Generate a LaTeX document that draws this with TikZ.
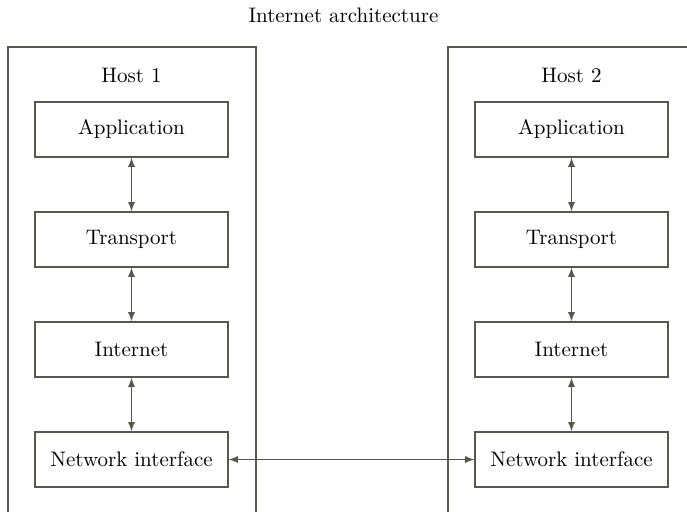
\documentclass[tikz,border=0pt]{standalone}
\usepackage{tikz}
\definecolor{rule}{RGB}{88,88,76}
\begin{document}
\begin{tikzpicture}[x=0.5pt,y=0.5pt,
    layer/.style={draw=rule, line width=0.6pt, minimum width=96.5pt, minimum height=27.5pt, inner sep=0pt, font=\fontsize{10.5}{12}\selectfont},
    link/.style={<->, >=latex, draw=rule, line width=0.6pt},
    every node/.style={font=\fontsize{10.5}{12}\selectfont}]
    \useasboundingbox (0,0) rectangle (687,512);
    \node (title) at (343.5,497) {Internet architecture};
    \foreach \h/\xl/\xc in {1/8/131.5, 2/448/571.5} {
        \draw[rule, line width=0.6pt] (\xl,-10) rectangle ++(248,475);
        \node (host\h) at (\xc,437) {Host \h};
        \node[layer] (app\h) at (\xc,382.5) {Application};
        \node[layer] (tra\h) at (\xc,272.5) {Transport};
        \node[layer] (int\h) at (\xc,162.5) {Internet};
        \node[layer] (net\h) at (\xc,52.5) {Network interface};
        \draw[link] (app\h) -- (tra\h);
        \draw[link] (tra\h) -- (int\h);
        \draw[link] (int\h) -- (net\h);
    }
    \draw[link] (net1) -- (net2);
\end{tikzpicture}
\end{document}
